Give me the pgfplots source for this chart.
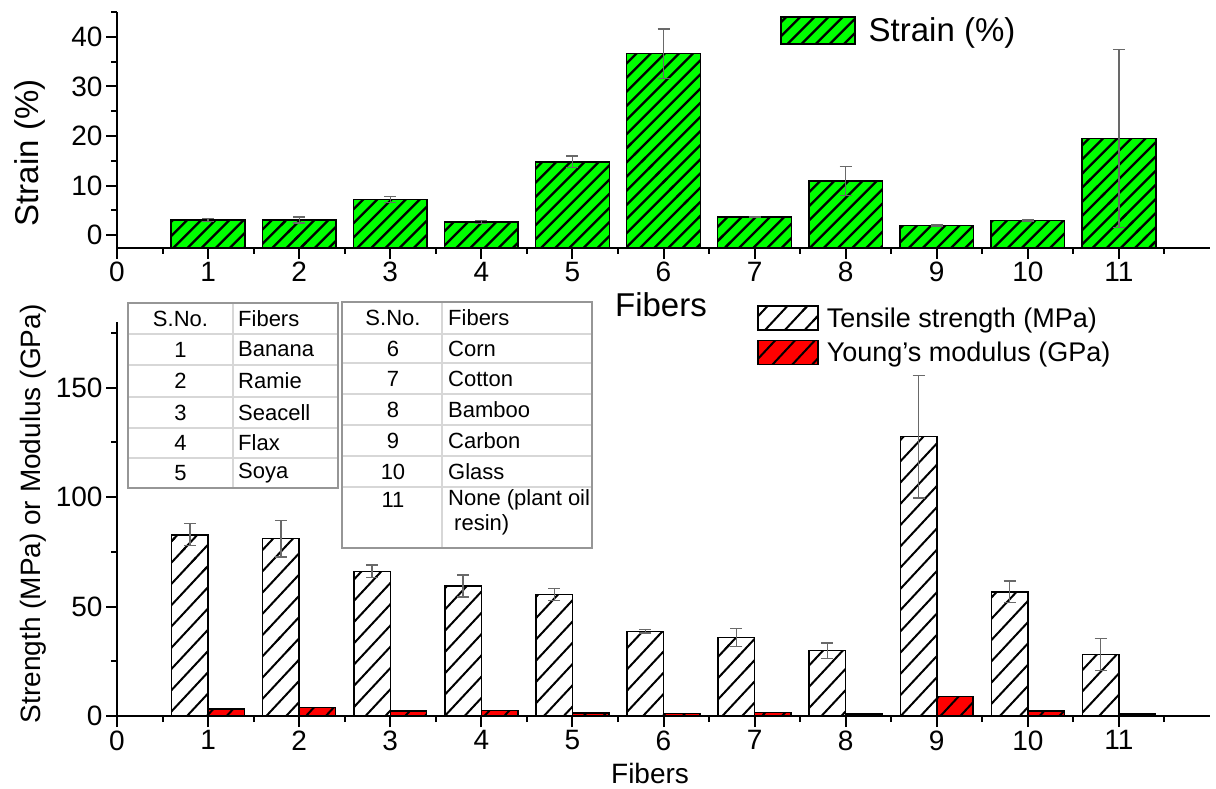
\documentclass[border=0pt]{standalone}
\usepackage{pgfplots}
\pgfplotsset{compat=1.18}
\usepackage{fontspec}
\setmainfont{Liberation Sans}
\usetikzlibrary{patterns.meta}

\definecolor{barGreen}{RGB}{0,255,0}
\definecolor{barRed}{RGB}{255,0,0}
\definecolor{errGray}{RGB}{105,105,105}
\definecolor{tabLine}{RGB}{215,215,215}
\definecolor{tabBorder}{RGB}{150,150,150}

% long tiles, so the hatch lines show no seams
\pgfdeclarepattern{
  name=hatchDense, type=uncolored,
  bottom left={\pgfpoint{-3bp}{-6bp}},
  top right={\pgfpoint{303bp}{6bp}},
  tile size={\pgfpoint{300bp}{10bp}},
  tile transformation={\pgftransformrotate{45}},
  code={\pgfsetlinewidth{2.3bp}\pgfpathmoveto{\pgfpoint{-3bp}{0bp}}\pgfpathlineto{\pgfpoint{303bp}{0bp}}\pgfusepath{stroke}}
}
\pgfdeclarepattern{
  name=hatchWide, type=uncolored,
  bottom left={\pgfpoint{-3bp}{-8bp}},
  top right={\pgfpoint{303bp}{8bp}},
  tile size={\pgfpoint{300bp}{14.5bp}},
  tile transformation={\pgftransformrotate{47}},
  code={\pgfsetlinewidth{2bp}\pgfpathmoveto{\pgfpoint{-3bp}{0bp}}\pgfpathlineto{\pgfpoint{303bp}{0bp}}\pgfusepath{stroke}}
}

\pgfplotsset{
  fibaxis/.style={
    scale only axis, width=1093bp,
    xmin=0, xmax=12,
    axis x line*=bottom, axis y line*=left,
    hide obscured x ticks=false, hide obscured y ticks=false,
    axis line style={line width=2bp},
    tick align=outside,
    major tick length=11bp, minor tick length=6bp,
    every tick/.style={black, line width=2bp},
    xtick={0,...,11}, minor xtick={0.5,1.5,...,11.5},
    xticklabels={0,1,2,3,4,5,6,7,8,9,10,11},
    tick label style={font=\fontsize{28bp}{30bp}\selectfont},
    error bars/error bar style={errGray, line width=1.3bp},
    error bars/error mark options={errGray, rotate=90, mark size=6bp, line width=1.3bp},
  },
  bigpatch/.style={legend image code/.code={\draw[##1] (0bp,-13.5bp) rectangle (74bp,13.5bp);}},
  smallpatch/.style={legend image code/.code={\draw[##1] (0bp,-12bp) rectangle (60bp,12bp);}},
}

\begin{document}
\begin{tikzpicture}
\useasboundingbox (0,0) rectangle (1216bp,789bp);

% top: strain
\begin{axis}[fibaxis,
  at={(117bp,541.3bp)}, anchor=south west, height=235.7bp,
  ymin=-2.5, ymax=45,
  y coord trafo/.code={\pgfmathparse{#1+2.5}},
  y coord inv trafo/.code={\pgfmathparse{#1-2.5}},
  ytick={0,10,20,30,40}, yticklabels={0,10,20,30,40},
  minor ytick={5,15,25,35,45},
  ybar, bar width=0.81,
  xlabel={Fibers}, ylabel={Strain (\%)},
  label style={font=\fontsize{33bp}{36bp}\selectfont},
  xlabel style={at={(rel axis cs:0.4977,0)}, anchor=center, yshift=-57bp},
  ylabel style={at={(rel axis cs:0,0.402)}, anchor=center, yshift=87bp},
  legend style={at={(0.6066,0.9215)}, anchor=west, draw=none, fill=none,
    inner sep=0pt, nodes={inner sep=0pt},
    font=\fontsize{33bp}{36bp}\selectfont,
    /tikz/every odd column/.style={column sep=13bp}},
]
\addplot[draw=black, line width=1.5bp, fill=barGreen,
  postaction={pattern=hatchDense, pattern color=black}, bigpatch,
  error bars/.cd, y dir=both, y explicit]
coordinates {
  (1,3.1) +- (0,0.3)
  (2,3.1) +- (0,0.6)
  (3,7.2) +- (0,0.6)
  (4,2.7) +- (0,0.3)
  (5,14.8) +- (0,1.2)
  (6,36.6) +- (0,5.0)
  (7,3.7) +- (0,0.1)
  (8,10.9) +- (0,2.9)
  (9,2.0) +- (0,0.1)
  (10,3.0) +- (0,0.1)
  (11,19.5) +- (0,18.0)
};
\addlegendentry{Strain (\%)}
\end{axis}

% bottom: strength and modulus
\begin{axis}[fibaxis,
  at={(117bp,73bp)}, anchor=south west, height=394bp,
  ymin=0, ymax=180,
  ytick={0,50,100,150}, yticklabels={0,50,100,150},
  minor ytick={25,75,125,175},
  ybar, bar width=0.4,
  xlabel={Fibers}, ylabel={Strength (MPa) or Modulus (GPa)},
  label style={font=\fontsize{28bp}{30bp}\selectfont},
  xlabel style={at={(rel axis cs:0.4877,0)}, anchor=center, yshift=-57bp},
  ylabel style={at={(rel axis cs:0,0.513)}, anchor=center, yshift=84bp},
  legend style={at={(0.5856,1.043)}, anchor=north west, draw=none, fill=none,
    inner sep=0pt, nodes={inner sep=0pt}, row sep=9bp,
    font=\fontsize{27bp}{29bp}\selectfont,
    /tikz/every odd column/.style={column sep=8bp}},
  legend cell align=left,
]
\addplot[bar shift=-0.2, draw=black, line width=1.5bp, fill=white,
  postaction={pattern=hatchWide, pattern color=black}, smallpatch,
  error bars/.cd, y dir=both, y explicit]
coordinates {
  (1,82.8) +- (0,5.0)
  (2,81.0) +- (0,8.3)
  (3,66.1) +- (0,2.9)
  (4,59.4) +- (0,5.0)
  (5,55.6) +- (0,2.7)
  (6,38.7) +- (0,0.8)
  (7,35.9) +- (0,4.1)
  (8,29.9) +- (0,3.5)
  (9,127.6) +- (0,28.0)
  (10,56.7) +- (0,5.0)
  (11,28.1) +- (0,7.2)
};
\addlegendentry{Tensile strength (MPa)}
\addplot[bar shift=0.2, draw=black, line width=1.5bp, fill=barRed,
  postaction={pattern=hatchWide, pattern color=black}, smallpatch]
coordinates {
  (1,3.2) (2,3.8) (3,2.3) (4,2.6) (5,1.4) (6,1.2)
  (7,1.5) (8,0.9) (9,8.8) (10,2.3) (11,0.8)
};
\addlegendentry{Young’s modulus (GPa)}
\end{axis}

% fibre key tables, in pixel coordinates of the picture
\begin{scope}[shift={(0bp,789bp)}, x=1bp, y=-1bp, font=\fontsize{22bp}{24bp}\selectfont]
  \fill[white] (128,303) rectangle (338,488);
  \foreach \yy in {334,365,397,428,458}
    \draw[tabLine, line width=1.5bp] (128,\yy) -- (338,\yy);
  \draw[tabLine, line width=1.5bp] (233,303) -- (233,488);
  \draw[tabBorder, line width=1.5bp] (128,303) rectangle (338,488);
  \node at (180.5,318.5) {S.No.};
  \node[anchor=west, inner sep=0pt] at (238,318.5) {Fibers};
  \foreach \n/\name/\yy in {1/Banana/349.5, 2/Ramie/381, 3/Seacell/412.5, 4/Flax/443, 5/Soya/473} {
    \node at (180.5,\yy) {\n};
    \node[anchor=west, inner sep=0pt] at (238,\yy) {\name};
  }

  \fill[white] (342,302) rectangle (592,548);
  \foreach \yy in {334,363,394,425,456,487}
    \draw[tabLine, line width=1.5bp] (342,\yy) -- (592,\yy);
  \draw[tabLine, line width=1.5bp] (442,302) -- (442,548);
  \draw[tabBorder, line width=1.5bp] (342,302) rectangle (592,548);
  \node at (393,318) {S.No.};
  \node[anchor=west, inner sep=0pt] at (448,318) {Fibers};
  \foreach \n/\name/\yy in {6/Corn/348.5, 7/Cotton/378.5, 8/Bamboo/409.5, 9/Carbon/440.5, 10/Glass/471.5} {
    \node at (393,\yy) {\n};
    \node[anchor=west, inner sep=0pt] at (448,\yy) {\name};
  }
  \node at (393,500) {11};
  \node[anchor=west, inner sep=0pt] at (448,500) {None (plant oil};
  \node[anchor=west, inner sep=0pt] at (454,525) {resin)};
\end{scope}
\end{tikzpicture}
\end{document}
